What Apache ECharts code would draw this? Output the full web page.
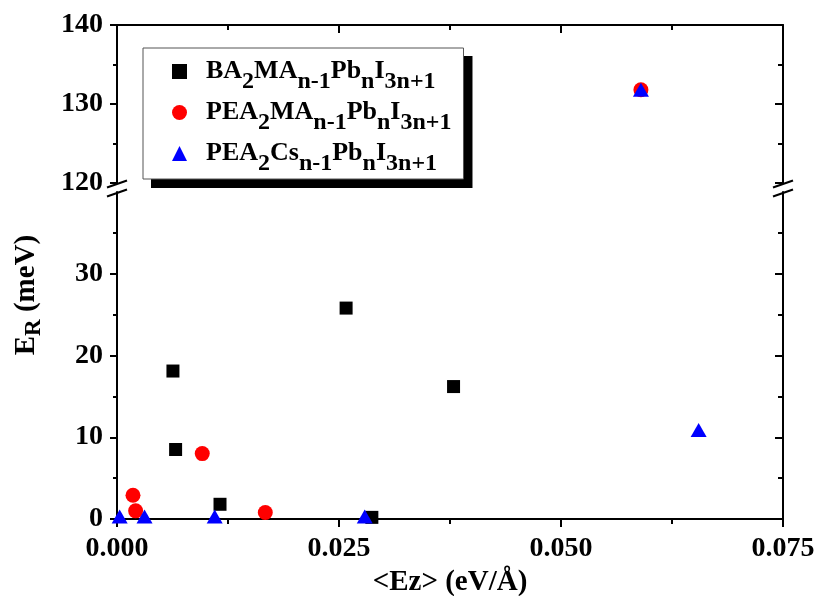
<!DOCTYPE html>
<html><head><meta charset="utf-8">
<script src="https://cdn.jsdelivr.net/npm/echarts@6/dist/echarts.min.js"></script>
<style>html,body{margin:0;padding:0;background:#fff}#c{width:819px;height:596px}</style>
</head><body><div id="c"></div>
<script>
// ---- data ----
const seriesNames = ['BA', 'PEA-MA', 'PEA-Cs'];
const legendPieces = {
  'BA':     ['BA', '2', 'MA', 'n-1', 'Pb', 'n', 'I', '3n+1'],
  'PEA-MA': ['PEA', '2', 'MA', 'n-1', 'Pb', 'n', 'I', '3n+1'],
  'PEA-Cs': ['PEA', '2', 'Cs', 'n-1', 'Pb', 'n', 'I', '3n+1']
};
const baX    = [0.0063, 0.0066, 0.0116, 0.0258, 0.0379, 0.0287];
const baY    = [18.1, 8.5, 1.8, 25.8, 16.2, 0.2];
const peaMaX = [0.0018, 0.0021, 0.0096, 0.0167, 0.0590];
const peaMaY = [2.9, 1.0, 8.0, 0.8, 131.8];
const peaCsX = [0.0003, 0.0031, 0.0110, 0.0279, 0.0655, 0.0590];
const peaCsY = [0.3, 0.3, 0.3, 0.3, 10.9, 131.8];
const xTickLabels = ['0.000', '0.025', '0.050', '0.075'];
const lowerYTicks = [0, 10, 20, 30];
const upperYTicks = [120, 130, 140];
const breakLow = 40, breakHigh = 120;

// ---- chart ----
const FONT = '"Liberation Serif", "Times New Roman", serif';
const chart = echarts.init(document.getElementById('c'), null, {renderer: 'canvas'});

function split(xs, ys, upper) {
  const out = [];
  xs.forEach((x, i) => { if ((ys[i] >= breakHigh) === upper) out.push([x, ys[i]]); });
  return out;
}
const sets = [
  {name: 'BA', xs: baX, ys: baY, symbol: 'rect', size: 13, color: '#000000'},
  {name: 'PEA-MA', xs: peaMaX, ys: peaMaY, symbol: 'circle', size: 15, color: '#ff0000'},
  {name: 'PEA-Cs', xs: peaCsX, ys: peaCsY, symbol: 'triangle', size: [16, 14], color: '#0000ff'}
];
const series = [];
sets.forEach(s => {
  const common = {type: 'scatter', name: s.name, symbol: s.symbol, symbolSize: s.size,
    itemStyle: {color: s.color, opacity: 1}, emphasis: {disabled: true}, z: 3};
  series.push(Object.assign({xAxisIndex: 0, yAxisIndex: 0, data: split(s.xs, s.ys, false)}, common));
  series.push(Object.assign({xAxisIndex: 1, yAxisIndex: 2, data: split(s.xs, s.ys, true)}, common));
});

const lineStyle = {color: '#000', width: 2};
const tickOut = {show: true, inside: false, length: 8, lineStyle: {color: '#000', width: 2}};
const tickIn = {show: true, inside: true, length: 8, lineStyle: {color: '#000', width: 2}};
const minorOut = {show: true, splitNumber: 2, length: 5, lineStyle: {color: '#000', width: 2}};
const labelStyle = {color: '#000', fontFamily: FONT, fontWeight: 'bold', fontSize: 28};

const richMain = {fontFamily: FONT, fontWeight: 'bold', fontSize: 26, color: '#000', lineHeight: 26};
const richSub = {fontFamily: FONT, fontWeight: 'bold', fontSize: 24, color: '#000', lineHeight: 22, padding: [21, 0, 0, 0]};

const LEG_LEFT = 143, LEG_TOP = 48;

chart.setOption({
  animation: false,
  backgroundColor: '#fff',
  grid: [
    {left: 117, right: 36, top: 192, bottom: 77, outerBoundsMode: 'none', containLabel: false},
    {left: 117, right: 36, top: 25, height: 158, outerBoundsMode: 'none', containLabel: false}
  ],
  xAxis: [
    {gridIndex: 0, type: 'value', position: 'bottom', min: 0, max: 0.075, interval: 0.025,
     axisLine: {show: true, lineStyle}, axisTick: tickOut, minorTick: minorOut,
     splitLine: {show: false}, minorSplitLine: {show: false},
     axisLabel: Object.assign({margin: 16, formatter: v => xTickLabels[Math.round(v / 0.025)]}, labelStyle),
     name: '<Ez> (eV/Å)', nameLocation: 'middle', nameGap: 47,
     nameTextStyle: {color: '#000', fontFamily: FONT, fontWeight: 'bold', fontSize: 29}},
    {gridIndex: 1, type: 'value', position: 'top', min: 0, max: 0.075, interval: 0.025,
     axisLine: {show: true, lineStyle}, axisTick: tickIn,
     minorTick: Object.assign({}, minorOut), splitLine: {show: false},
     axisLabel: {show: false}}
  ],
  yAxis: [
    {gridIndex: 0, type: 'value', position: 'left', min: 0, max: breakLow, interval: 10,
     axisLine: {show: true, lineStyle}, axisTick: Object.assign({customValues: lowerYTicks}, tickOut, {length: 7}),
     minorTick: Object.assign({}, minorOut, {length: 4}), splitLine: {show: false},
     axisLabel: Object.assign({margin: 14, customValues: lowerYTicks}, labelStyle)},
    {gridIndex: 0, type: 'value', position: 'right', min: 0, max: breakLow, interval: 10,
     axisLine: {show: true, lineStyle}, axisTick: Object.assign({customValues: lowerYTicks}, tickIn),
     minorTick: Object.assign({}, minorOut), splitLine: {show: false}, axisLabel: {show: false}},
    {gridIndex: 1, type: 'value', position: 'left', min: breakHigh, max: 140, interval: 10,
     axisLine: {show: true, lineStyle}, axisTick: Object.assign({}, tickOut, {length: 7}),
     minorTick: Object.assign({}, minorOut, {length: 4}), splitLine: {show: false},
     axisLabel: Object.assign({margin: 14, customValues: upperYTicks}, labelStyle)},
    {gridIndex: 1, type: 'value', position: 'right', min: breakHigh, max: 140, interval: 10,
     axisLine: {show: true, lineStyle}, axisTick: tickIn,
     minorTick: Object.assign({}, minorOut), splitLine: {show: false}, axisLabel: {show: false}}
  ],
  legend: {
    orient: 'vertical', left: LEG_LEFT, top: LEG_TOP,
    itemWidth: 15, itemHeight: 15, itemGap: -4,
    padding: [1, 12, 3, 29],
    backgroundColor: '#fff', borderColor: '#555', borderWidth: 1,
    selectedMode: false, z: 5,
    data: [
      {name: 'BA', icon: 'rect'},
      {name: 'PEA-MA', icon: 'circle'},
      {name: 'PEA-Cs', icon: 'triangle'}
    ],
    formatter: name => '{gap| }' + legendPieces[name].map((p, i) => (i % 2 ? '{s|' : '{m|') + p + '}').join(''),
    textStyle: {rich: {gap: {width: 14, fontSize: 10}, m: richMain, s: richSub}}
  },
  series
});

// legend drop shadow, sized from the rendered legend box
let legW = 322, legH = 130;
try {
  const lm = chart.getModel().getComponent('legend');
  const lv = chart.getViewOfComponentModel(lm);
  const r = lv.group.getBoundingRect();
  legW = r.width; legH = r.height;
} catch (e) {}

// axis break marks
const yUp = chart.convertToPixel({yAxisIndex: 2}, breakHigh);
const yLo = chart.convertToPixel({yAxisIndex: 0}, breakLow);
const xL = chart.convertToPixel({xAxisIndex: 0}, 0);
const xR = chart.convertToPixel({xAxisIndex: 0}, 0.075);
const marks = [];
[xL, xR].forEach(x => {
  [yUp + 1, yLo + 1].forEach(y => {
    marks.push({type: 'line', shape: {x1: x - 10, y1: y + 3.5, x2: x + 10, y2: y - 3.5},
      style: {stroke: '#000', lineWidth: 2}, z: 10});
  });
});
marks.push({type: 'rect', shape: {x: LEG_LEFT + 8, y: LEG_TOP + 8, width: legW, height: legH},
  style: {fill: '#000'}, z: 1});
marks.push({
  type: 'text', x: 27, y: 295, rotation: Math.PI / 2,
  style: {text: '{m|E}{s|R}{m| (meV)}', align: 'center', verticalAlign: 'middle',
    rich: {m: {fontFamily: FONT, fontWeight: 'bold', fontSize: 29, lineHeight: 30, color: '#000'},
           s: {fontFamily: FONT, fontWeight: 'bold', fontSize: 23, lineHeight: 22, color: '#000', padding: [14, 0, 0, 0]}}},
  z: 10
});
chart.setOption({graphic: marks});
</script>
</body></html>
